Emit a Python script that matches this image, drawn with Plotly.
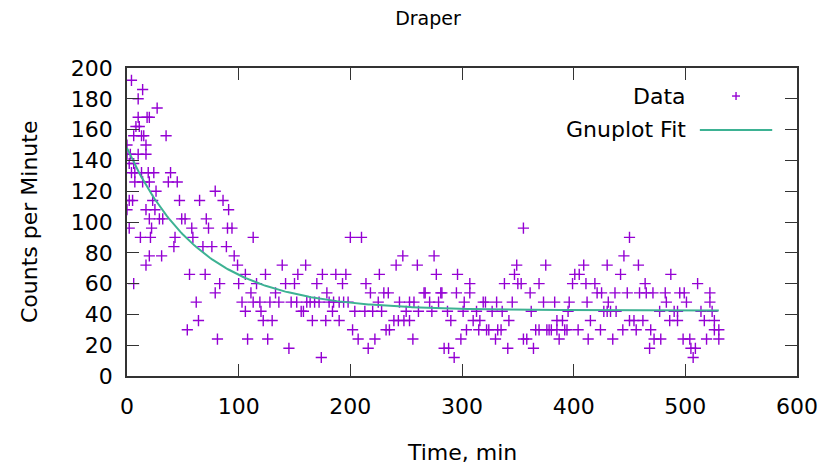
import numpy as np
import plotly.graph_objects as go

# ---- data ----
time_min = [
    0, 0, 0, 2, 2, 2, 3, 4, 4, 5,
    6, 6, 6, 7, 7, 8, 10, 10, 10, 11,
    12, 13, 13, 14, 14, 15, 17, 17, 17, 17,
    18, 19, 20, 20, 20, 20, 21, 22, 23, 24,
    25, 26, 27, 29, 31, 32, 35, 37, 39, 42,
    43, 45, 47, 49, 52, 54, 56, 58, 59, 62,
    64, 65, 68, 70, 71, 73, 76, 79, 79, 81,
    83, 86, 89, 90, 91, 94, 96, 99, 100, 103,
    106, 106, 108, 111, 113, 113, 116, 119, 120, 122,
    124, 126, 128, 130, 133, 136, 139, 142, 145, 147,
    150, 152, 153, 156, 158, 160, 161, 164, 166, 168,
    170, 172, 174, 175, 178, 179, 181, 184, 185, 187,
    190, 190, 193, 194, 196, 198, 200, 202, 204, 207,
    210, 213, 214, 216, 218, 220, 222, 225, 226, 228,
    230, 232, 234, 235, 239, 241, 243, 244, 247, 248,
    250, 253, 253, 256, 257, 260, 261, 266, 267, 271,
    273, 275, 277, 279, 281, 282, 284, 287, 288, 290,
    293, 295, 296, 299, 301, 302, 304, 307, 307, 310,
    313, 315, 316, 319, 321, 322, 324, 327, 330, 331,
    332, 335, 336, 338, 341, 342, 345, 347, 349, 350,
    353, 355, 355, 358, 361, 362, 364, 366, 369, 369,
    373, 375, 376, 378, 380, 383, 385, 385, 387, 390,
    392, 394, 395, 396, 399, 401, 404, 405, 409, 411,
    412, 413, 415, 419, 421, 424, 425, 427, 430, 430,
    431, 433, 435, 437, 438, 442, 444, 445, 448, 450,
    450, 454, 456, 458, 459, 462, 464, 465, 468, 469,
    471, 472, 477, 478, 482, 483, 486, 487, 490, 493,
    493, 495, 498, 499, 501, 504, 505, 507, 509, 511,
    514, 517, 519, 522, 522, 524, 526, 526, 530, 530,
]
counts_per_min = [
    150, 144, 108, 138, 114, 96, 144, 192, 132, 114,
    156, 138, 60, 132, 126, 162, 180, 168, 144, 162,
    90, 156, 132, 186, 126, 156, 150, 144, 108, 72,
    168, 132, 168, 126, 102, 78, 90, 96, 114, 132,
    108, 120, 174, 102, 78, 102, 156, 126, 132, 84,
    90, 126, 114, 102, 102, 30, 66, 96, 90, 48,
    36, 114, 84, 66, 102, 96, 84, 120, 54, 24,
    60, 114, 84, 96, 108, 96, 78, 72, 60, 48,
    66, 42, 24, 54, 90, 48, 60, 48, 42, 36,
    66, 24, 48, 36, 54, 48, 72, 60, 18, 48,
    60, 48, 66, 42, 42, 72, 48, 48, 36, 48,
    60, 48, 12, 66, 36, 54, 48, 42, 48, 66,
    48, 36, 60, 48, 66, 48, 90, 30, 42, 24,
    90, 42, 60, 18, 54, 42, 24, 48, 66, 42,
    54, 30, 54, 30, 36, 72, 36, 48, 78, 36,
    42, 48, 36, 24, 48, 72, 42, 54, 54, 48,
    42, 78, 66, 48, 54, 54, 18, 42, 18, 36,
    12, 54, 66, 24, 42, 48, 30, 60, 54, 36,
    42, 30, 36, 48, 48, 30, 30, 42, 24, 48,
    30, 30, 42, 60, 18, 36, 48, 66, 72, 60,
    60, 96, 24, 24, 54, 42, 18, 30, 30, 60,
    48, 72, 30, 30, 30, 48, 36, 30, 24, 36,
    30, 30, 42, 48, 60, 66, 30, 66, 72, 60,
    48, 24, 36, 60, 54, 30, 54, 42, 72, 42,
    48, 42, 24, 54, 42, 66, 30, 78, 54, 90,
    36, 36, 30, 72, 54, 36, 60, 54, 18, 30,
    54, 24, 42, 24, 54, 48, 36, 66, 42, 42,
    36, 54, 24, 54, 48, 24, 18, 12, 18, 60,
    42, 36, 24, 54, 48, 42, 36, 30, 30, 24,
]

# exponential fit parameters: y = A*exp(-t/tau) + C
fit_A = 105.5
fit_tau = 66.0
fit_C = 42.5
fit_range = [0, 530]

x_ticks = [0, 100, 200, 300, 400, 500, 600]
y_ticks = [0, 20, 40, 60, 80, 100, 120, 140, 160, 180, 200]

DATA_COLOR = "#9400d3"
FIT_COLOR = "#3db293"
AXIS_COLOR = "#333333"
FONT = "DejaVu Sans"

fit_t = np.linspace(fit_range[0], fit_range[1], 300)
fit_y = fit_A * np.exp(-fit_t / fit_tau) + fit_C

fig = go.Figure()
fig.add_trace(go.Scatter(
    x=time_min, y=counts_per_min, mode="markers", name="Data",
    marker=dict(symbol="cross-thin", size=8, color=DATA_COLOR,
                line=dict(color=DATA_COLOR, width=1.4)),
    showlegend=False,
))
fig.add_trace(go.Scatter(
    x=fit_t, y=fit_y, mode="lines", name="Gnuplot Fit",
    line=dict(color=FIT_COLOR, width=2), showlegend=False,
))

axis_common = dict(
    showline=True, linecolor=AXIS_COLOR, linewidth=1.6, mirror="ticks",
    ticks="inside", ticklen=12, tickwidth=1.4, tickcolor=AXIS_COLOR,
    showgrid=False, zeroline=False,
    tickfont=dict(family=FONT, size=22, color="black"),
)
fig.update_xaxes(range=[0, 600], tickvals=x_ticks, ticklabelstandoff=10, **axis_common)
fig.update_yaxes(range=[0, 200], tickvals=y_ticks, ticklabelstandoff=8, **axis_common)

# legend (gnuplot style: text left, sample right)
leg_text_x = 0.838
leg_y1 = 0.909
leg_y2 = 0.799
anns = [
    dict(text="Data", x=leg_text_x, y=leg_y1, xref="paper", yref="paper",
         xanchor="right", yanchor="middle", showarrow=False,
         font=dict(family=FONT, size=22, color="black")),
    dict(text="Gnuplot Fit", x=leg_text_x, y=leg_y2, xref="paper", yref="paper",
         xanchor="right", yanchor="middle", showarrow=False,
         font=dict(family=FONT, size=22, color="black")),
    dict(text="Time, min", x=0.5, y=0, xref="paper", yref="paper",
         xanchor="center", yanchor="middle", yshift=-76, showarrow=False,
         font=dict(family=FONT, size=22, color="black")),
    dict(text="Counts per Minute", x=0, y=0.5, xref="paper", yref="paper",
         xanchor="center", yanchor="middle", xshift=-98, textangle=-90,
         showarrow=False, font=dict(family=FONT, size=22, color="black")),
]
mx = 0.909
shapes = [
    dict(type="line", xref="paper", yref="paper", x0=0.855, x1=0.963,
         y0=leg_y2, y1=leg_y2, line=dict(color=FIT_COLOR, width=2)),
    dict(type="line", xref="paper", yref="paper", xsizemode="pixel", xanchor=mx,
         x0=-4, x1=4, y0=leg_y1, y1=leg_y1, line=dict(color=DATA_COLOR, width=1.4)),
    dict(type="line", xref="paper", yref="paper", ysizemode="pixel", yanchor=leg_y1,
         y0=-4, y1=4, x0=mx, x1=mx, line=dict(color=DATA_COLOR, width=1.4)),
]

fig.update_layout(
    width=831, height=472,
    margin=dict(l=127, r=34, t=68, b=96),
    paper_bgcolor="white", plot_bgcolor="white",
    title=dict(text="Draper", x=0.515, xanchor="center", y=0.962, yanchor="middle",
               font=dict(family=FONT, size=19, color="black")),
    annotations=anns, shapes=shapes,
    showlegend=False,
)

fig.write_html("out.html")
